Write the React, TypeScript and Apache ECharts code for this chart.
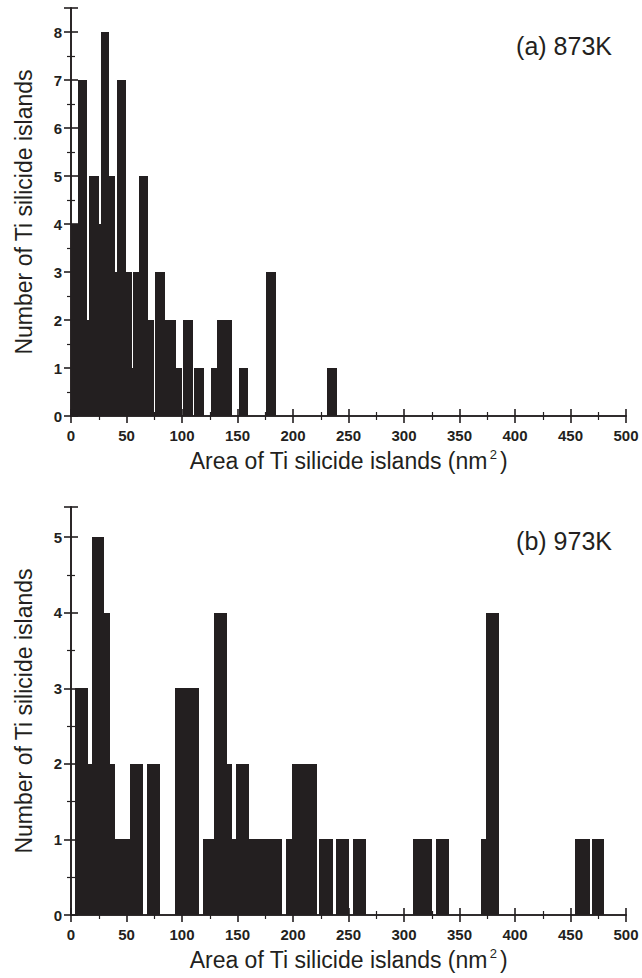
import React, { useEffect, useRef } from "react";
import * as echarts from "echarts";

// Panel (a) 873K: histogram columns [start, end] in nm^2 and counts
const startA = [0, 6.6, 14.7, 16.5, 25.1, 26.6, 34.4, 39.5, 41.6, 49.4, 54.8, 56, 61, 69.5, 75.6, 84.4, 94.3, 100.8, 110.8, 125.9, 131.1, 151.1, 176, 231];
const endA = [6.6, 14.7, 16.5, 25.1, 26.6, 34.4, 39.5, 41.6, 49.4, 54.8, 56, 61, 69.5, 74.6, 84.4, 94.3, 99.6, 109.5, 119.6, 131.1, 144.6, 159.5, 185, 239.5];
const countA = [4, 7, 2, 5, 4, 8, 5, 3, 7, 3, 1, 3, 5, 2, 3, 2, 1, 2, 1, 1, 2, 1, 3, 1];

// Panel (b) 973K
const startB = [3.6, 15.3, 18.6, 30, 35.4, 40, 53.5, 68.8, 93.7, 104.5, 118.6, 128.5, 140.2, 145.4, 148.7, 160.4, 193.7, 199.4, 223.7, 238.8, 253.8, 308.4, 328.5, 369, 373.6, 454, 469];
const endB = [15.3, 18.6, 30, 35.4, 40, 53.5, 65.2, 80.2, 104.5, 115, 128.5, 140.2, 145.4, 148.7, 160.4, 190.4, 199.4, 221.7, 235.7, 250.5, 265.5, 325.5, 340.5, 373.6, 385.3, 467.6, 480.4];
const countB = [3, 2, 5, 4, 2, 1, 2, 2, 3, 3, 1, 4, 2, 1, 2, 1, 1, 2, 1, 1, 1, 1, 1, 1, 4, 1, 1];

const labelA = "(a) 873K";
const labelB = "(b) 973K";
const xTitle = "Area of Ti silicide islands (nm{sup|2})";
const yTitle = "Number of Ti silicide islands";

const xMin = 0;
const xMax = 500;
const xStep = 50;
const yMaxA = 8.5;
const yMaxB = 5.4;
const yStep = 1;

const BAR = "#231f20";
const AXIS = "#231f20";
const TICK_FONT = "'Liberation Sans', Arial, sans-serif";
const TEXT_FONT = "'Liberation Sans', Arial, sans-serif";

function rows(s: number[], e: number[], c: number[]) {
  return s.map((v, i) => [v, e[i], c[i]]);
}

export default function App() {
  const ref = useRef<HTMLDivElement>(null);

  useEffect(() => {
    if (!ref.current) return;
    const chart = echarts.init(ref.current, undefined, { renderer: "svg" });

    const grids = [
      { left: 71, right: 16, top: 8, height: 408 },
      { left: 71, right: 16, top: 507, height: 408 },
    ];

    const axisLine = { show: true, lineStyle: { color: AXIS, width: 1.6 } };
    const axisTick = { show: true, inside: true, length: 7, lineStyle: { color: AXIS, width: 1.6 } };
    const minorTick = { show: true, splitNumber: 2, length: 4, lineStyle: { color: AXIS, width: 1.2 } };

    const makeX = (gridIndex: number, bottom: boolean) => ({
      type: "value",
      gridIndex,
      position: bottom ? "bottom" : "top",
      min: xMin,
      max: xMax,
      interval: xStep,
      axisLine,
      axisTick,
      minorTick,
      splitLine: { show: false },
      axisLabel: bottom
        ? { show: true, margin: 12, fontSize: 15, fontWeight: "bold", fontFamily: TICK_FONT, color: "#231f20" }
        : { show: false },
      name: bottom ? xTitle : "",
      nameLocation: "middle",
      nameGap: 32,
      nameTextStyle: {
        fontSize: 23,
        fontFamily: TEXT_FONT,
        color: "#231f20",
        rich: { sup: { fontSize: 13, fontFamily: TEXT_FONT, color: "#231f20", padding: [0, 3, 12, 2] } },
      },
    });

    const makeY = (gridIndex: number, left: boolean, max: number) => ({
      type: "value",
      gridIndex,
      position: left ? "left" : "right",
      min: 0,
      max,
      interval: yStep,
      axisLine,
      axisTick,
      minorTick,
      splitLine: { show: false },
      axisLabel: left
        ? { show: true, margin: 9, fontSize: 15, fontWeight: "bold", fontFamily: TICK_FONT, color: "#231f20", showMaxLabel: false }
        : { show: false },
      name: left ? yTitle : "",
      nameLocation: "middle",
      nameRotate: 90,
      nameGap: 36,
      nameTextStyle: { fontSize: 23, fontFamily: TEXT_FONT, color: "#231f20" },
    });

    const renderItem = (params: any, api: any) => {
      const p0 = api.coord([api.value(0), api.value(2)]);
      const p1 = api.coord([api.value(1), 0]);
      const x0 = Math.round(p0[0]);
      const x1 = Math.round(p1[0]);
      const y0 = Math.round(p0[1]);
      const y1 = Math.round(p1[1]);
      return {
        type: "rect",
        shape: { x: x0, y: y0, width: x1 - x0, height: y1 - y0 },
        style: { fill: BAR },
      };
    };

    chart.setOption({
      animation: false,
      backgroundColor: "#ffffff",
      grid: grids,
      xAxis: [makeX(0, true), makeX(0, false), makeX(1, true), makeX(1, false)],
      yAxis: [makeY(0, true, yMaxA), makeY(0, false, yMaxA), makeY(1, true, yMaxB), makeY(1, false, yMaxB)],
      series: [
        {
          type: "custom",
          xAxisIndex: 0,
          yAxisIndex: 0,
          clip: true,
          renderItem,
          encode: { x: [0, 1], y: 2 },
          data: rows(startA, endA, countA),
          z: 1,
        },
        {
          type: "custom",
          xAxisIndex: 2,
          yAxisIndex: 2,
          clip: true,
          renderItem,
          encode: { x: [0, 1], y: 2 },
          data: rows(startB, endB, countB),
          z: 1,
        },
      ],
      graphic: [
        {
          type: "text",
          right: 30,
          top: 33,
          style: { text: labelA, fontSize: 25, fontFamily: TEXT_FONT, fill: "#231f20" },
        },
        {
          type: "text",
          right: 30,
          top: 528,
          style: { text: labelB, fontSize: 25, fontFamily: TEXT_FONT, fill: "#231f20" },
        },
      ],
    });

    return () => chart.dispose();
  }, []);

  return (
    <div
      ref={ref}
      style={{ position: "absolute", left: 0, top: 0, width: 642, height: 978, background: "#fff" }}
    />
  );
}
